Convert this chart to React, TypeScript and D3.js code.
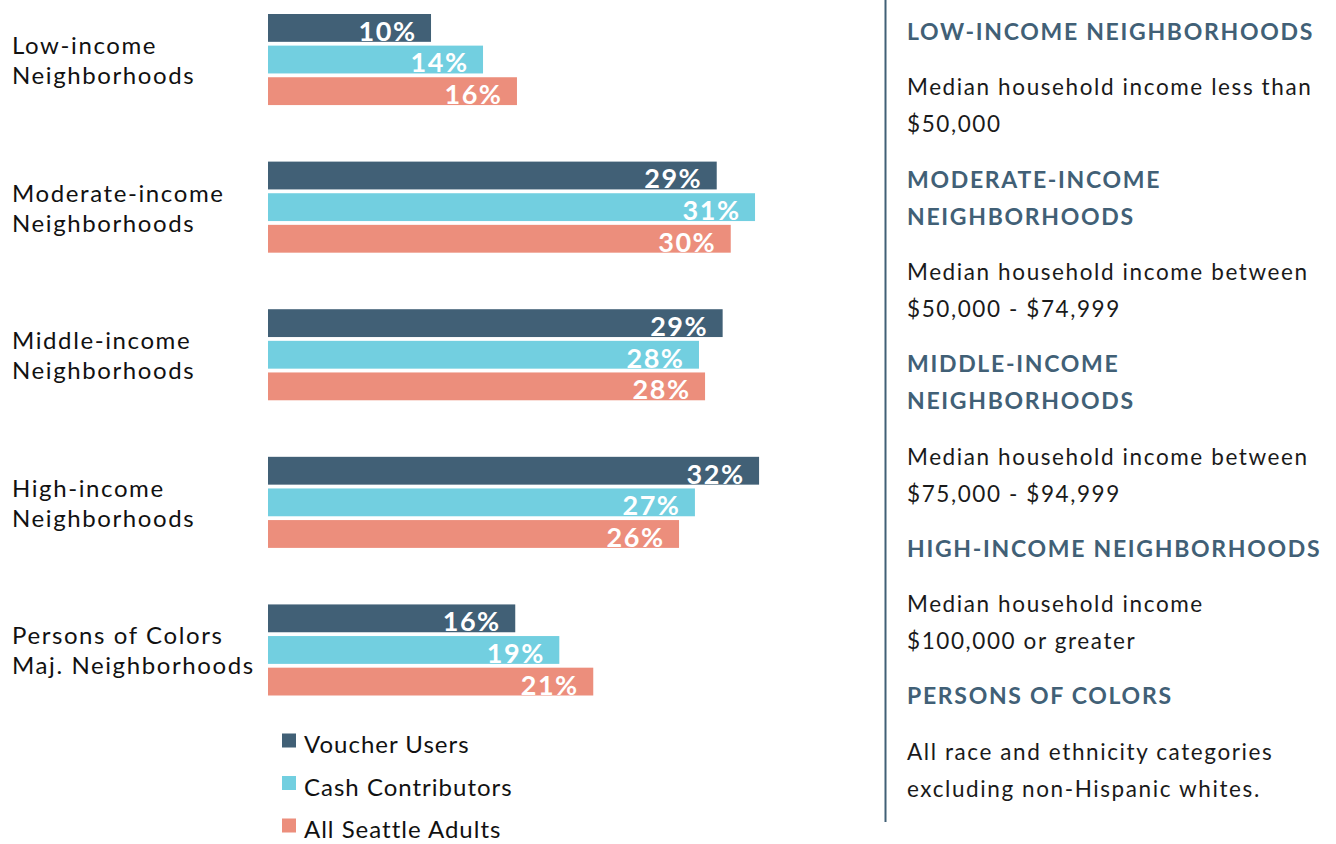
import React from "react";
import * as d3 from "d3";

const categories = [
  ["Low-income", "Neighborhoods"],
  ["Moderate-income", "Neighborhoods"],
  ["Middle-income", "Neighborhoods"],
  ["High-income", "Neighborhoods"],
  ["Persons of Colors", "Maj. Neighborhoods"],
];
const categoryKeys = ["low", "moderate", "middle", "high", "poc"];
const seriesNames = ["Voucher Users", "Cash Contributors", "All Seattle Adults"];
const voucherValues = [10.47, 28.82, 29.2, 31.54, 15.88];
const cashValues = [13.81, 31.28, 27.68, 27.42, 18.71];
const allValues = [15.99, 29.72, 28.07, 26.4, 20.89];
const voucherLabels = ["10%", "29%", "29%", "32%", "16%"];
const cashLabels = ["14%", "31%", "28%", "27%", "19%"];
const allLabels = ["16%", "30%", "28%", "26%", "21%"];
const seriesColors = ["#416076", "#72cfe0", "#ec8e7c"];

const notes = [
  { heading: ["LOW-INCOME NEIGHBORHOODS"], body: ["Median household income less than", "$50,000"] },
  { heading: ["MODERATE-INCOME", "NEIGHBORHOODS"], body: ["Median household income between", "$50,000 - $74,999"] },
  { heading: ["MIDDLE-INCOME", "NEIGHBORHOODS"], body: ["Median household income between", "$75,000 - $94,999"] },
  { heading: ["HIGH-INCOME NEIGHBORHOODS"], body: ["Median household income", "$100,000 or greater"] },
  { heading: ["PERSONS OF COLORS"], body: ["All race and ethnicity categories", "excluding non-Hispanic whites."] },
];

const FONT = "Lato, 'Open Sans', sans-serif";

export default function App() {
  const W = 1336, H = 844;
  const series = [
    { name: seriesNames[0], values: voucherValues, labels: voucherLabels, color: seriesColors[0] },
    { name: seriesNames[1], values: cashValues, labels: cashLabels, color: seriesColors[1] },
    { name: seriesNames[2], values: allValues, labels: allLabels, color: seriesColors[2] },
  ];
  const x = d3.scaleLinear().domain([0, 10]).range([268, 268 + 155.7]);
  const y0 = d3.scaleBand<string>().domain(categoryKeys).range([14, 695.5]).paddingInner(0.383).paddingOuter(0);
  const y1 = d3.scaleBand<string>().domain(seriesNames).range([0, y0.bandwidth()]).paddingInner(0.12);

  // right panel layout
  const L = 37, G = 55.3;
  const noteLines: { text: string; y: number; heading: boolean }[] = [];
  let cy = 40;
  notes.forEach((n, i) => {
    if (i > 0) cy += G;
    n.heading.forEach((t, j) => {
      if (j > 0) cy += L;
      noteLines.push({ text: t, y: cy, heading: true });
    });
    cy += G;
    n.body.forEach((t, j) => {
      if (j > 0) cy += L;
      noteLines.push({ text: t, y: cy, heading: false });
    });
  });

  const labelLS = 1.5;

  return (
    <svg width={W} height={H} style={{ position: "absolute", left: 0, top: 0, background: "#fff" }} fontFamily={FONT}>
      {categoryKeys.map((k, i) => {
        const gy = y0(k)!;
        const center = gy + y0.bandwidth() / 2;
        return (
          <g key={k}>
            {categories[i].map((line, j) => (
              <text key={j} x={12} y={center - 5.5 + j * 30} fontSize={24} fill="#111" letterSpacing={1.6}>
                {line}
              </text>
            ))}
            {series.map((s) => {
              const by = gy + y1(s.name)!;
              const bw = y1.bandwidth();
              return (
                <g key={s.name}>
                  <rect x={x(0)} y={by} width={x(s.values[i]) - x(0)} height={bw} fill={s.color} />
                  <text
                    x={x(s.values[i]) - 16 + labelLS}
                    y={by + bw - 1}
                    textAnchor="end"
                    fontSize={27}
                    fontWeight={700}
                    fill="#fff"
                    letterSpacing={labelLS}
                  >
                    {s.labels[i]}
                  </text>
                </g>
              );
            })}
          </g>
        );
      })}
      {series.map((s, i) => (
        <g key={s.name} transform={`translate(282, ${733.5 + i * 42.5})`}>
          <rect width={14} height={14} fill={s.color} />
          <text x={22} y={19.5} fontSize={24} fill="#111" letterSpacing={1.0}>
            {s.name}
          </text>
        </g>
      ))}
      <line x1={885.5} x2={885.5} y1={0} y2={822} stroke="#416076" strokeWidth={2} />
      {noteLines.map((l, i) => (
        <text
          key={i}
          x={907}
          y={l.y}
          fontSize={l.heading ? 23 : 22.5}
          fontWeight={l.heading ? 700 : 400}
          fill={l.heading ? "#416076" : "#1a1a1a"}
          letterSpacing={l.heading ? 1.7 : 1.6}
        >
          {l.text}
        </text>
      ))}
    </svg>
  );
}
